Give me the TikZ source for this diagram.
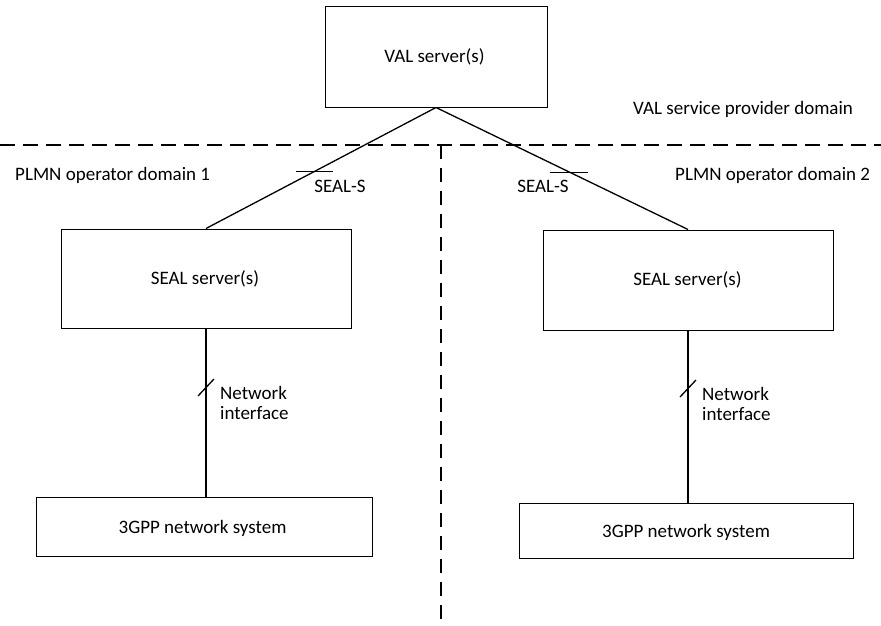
\documentclass[tikz,border=0pt]{standalone}
\usepackage{fontspec}
\setmainfont{Carlito}
\begin{document}
\begin{tikzpicture}[x=1pt,y=-1pt,
  box/.style={draw,line width=1pt,inner sep=0pt},
  lbl/.style={inner sep=0pt,anchor=base,font=\fontsize{19}{20.5}\selectfont},
  lbll/.style={lbl,anchor=base west},
  conn/.style={line width=1.3pt},
  dsh/.style={line width=1.3pt,dash pattern=on 15pt off 8pt}]
\useasboundingbox (0,0) rectangle (881,626);
% boxes
\node[box,minimum width=222pt,minimum height=100pt] (val) at (436,57) {};
\node[lbl] (valt) at (434.5,63) {VAL server(s)};
\node[box,minimum width=290pt,minimum height=99pt] (seal1) at (206,278.5) {};
\node[lbl] (seal1t) at (205,284) {SEAL server(s)};
\node[box,minimum width=290pt,minimum height=100pt] (seal2) at (688,280) {};
\node[lbl] (seal2t) at (687.5,285) {SEAL server(s)};
\node[box,minimum width=336pt,minimum height=59pt] (net1) at (204,526.5) {};
\node[lbl] (net1t) at (202.5,533) {3GPP network system};
\node[box,minimum width=334pt,minimum height=55pt] (net2) at (686,530.5) {};
\node[lbl] (net2t) at (686,537) {3GPP network system};
% domain labels
\node[lbll] (vald) at (633,114) {VAL service provider domain};
\node[lbll] (plmn1) at (15,180) {PLMN operator domain 1};
\node[lbll] (plmn2) at (675,180) {PLMN operator domain 2};
% dashed domain lines
\coordinate (hl) at (0,145);
\coordinate (hr) at (881,145);
\coordinate (vt) at (441,145);
\coordinate (vb) at (441,626);
\draw[dsh] (hl) -- (hr);
\draw[dsh,dash pattern=on 14pt off 9pt] (vt) -- (vb);
% connectors
\draw[conn] (val.south) -- (seal1.north) coordinate[pos=0.53] (t1);
\draw[conn] (val.south) -- (seal2.north) coordinate[pos=0.53] (t2);
\draw[conn] (seal1.south) -- (net1.north -| seal1.south);
\draw[conn] (seal2.south) -- (net2.north -| seal2.south);
% ticks
\draw[conn] ([xshift=-18pt]t1) -- ([xshift=19pt]t1);
\draw[conn] ([xshift=-20pt]t2) -- ([xshift=18pt]t2);
\draw[conn] (198,396) -- (214,379);
\draw[conn] (680,397) -- (696,380);
% interface labels
\node[lbl] (s1) at (340,192) {SEAL-S};
\node[lbl] (s2) at (543,192) {SEAL-S};
\node[lbll,align=left] (ni1) at (220,419.5) {Network\\interface};
\node[lbll,align=left] (ni2) at (702,420.5) {Network\\interface};
\end{tikzpicture}
\end{document}
